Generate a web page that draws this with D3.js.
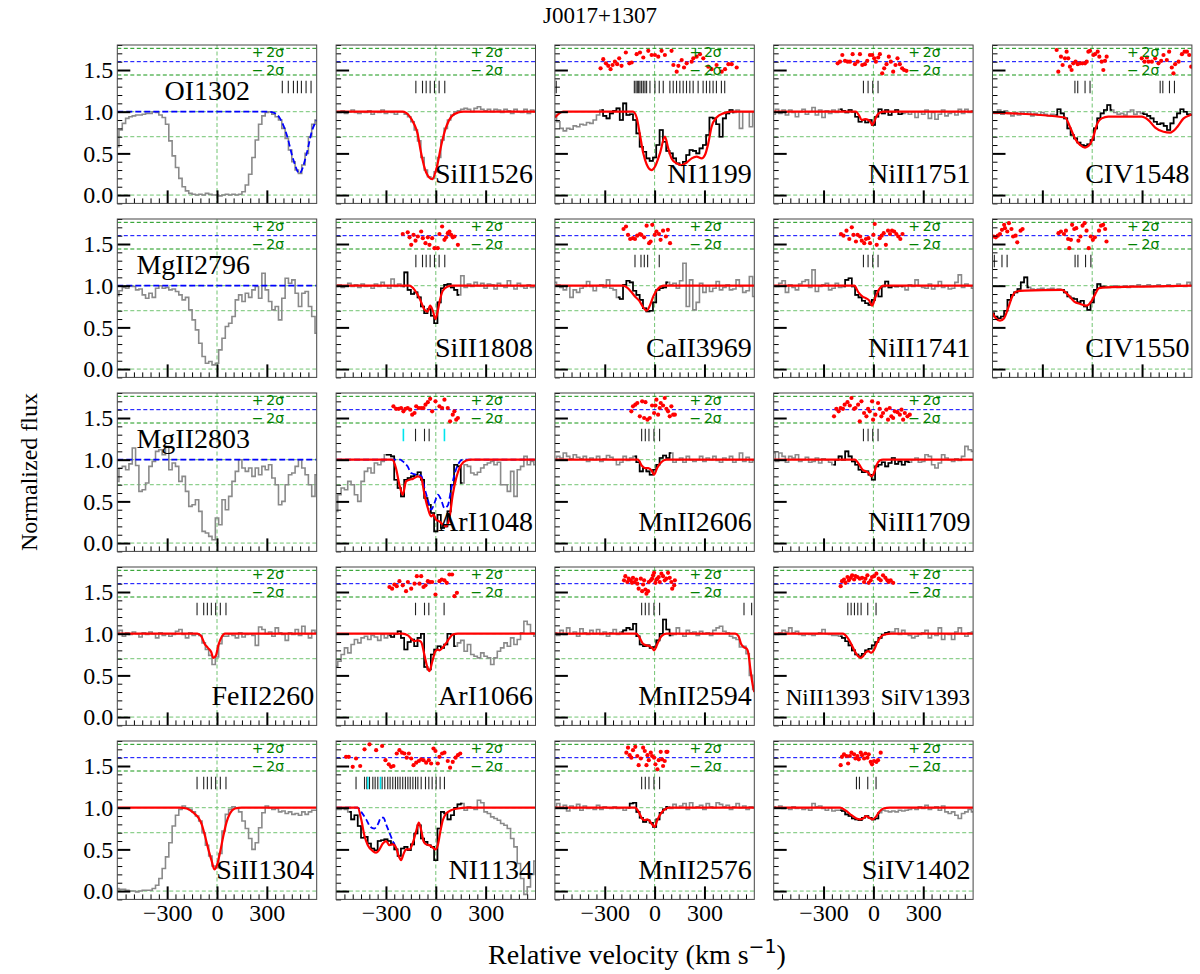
<!DOCTYPE html>
<html><head><meta charset="utf-8">
<script src="https://cdn.jsdelivr.net/npm/d3@7"></script>
<style>body{margin:0;background:#fff}svg{display:block}</style>
</head><body>
<svg id="chart" width="1200" height="974"></svg>
<script>
// ---------------- data ----------------
const velStart = -600, velStep = 20;
const xMajorTicks = [-300, 0, 300];
const yMajorTicks = [0, 0.5, 1.0, 1.5];
const titleText = "J0017+1307";

const fluxOI1302 = [0.58,0.78,0.86,0.92,0.94,0.95,0.96,0.96,0.97,0.98,0.98,1.0,0.99,0.96,0.93,0.85,0.65,0.47,0.33,0.2,0.1,0.05,0.02,0.01,0.0,0.01,0.0,0.02,0.01,0.0,0.0,-0.01,0.0,0.01,0.0,0.01,0.0,0.01,0.04,0.12,0.25,0.45,0.66,0.85,0.95,0.99,1.0,0.97,0.94,0.9,0.8,0.68,0.54,0.4,0.3,0.26,0.36,0.5,0.7,0.85,0.9];
const fluxSiII1526 = [1.0,0.99,1.01,0.98,1.0,1.02,0.99,0.98,1.0,0.99,1.01,0.97,1.0,0.99,1.02,0.98,1.0,0.99,0.97,1.0,1.0,0.97,0.94,0.88,0.78,0.65,0.45,0.3,0.22,0.2,0.28,0.45,0.66,0.8,0.9,0.96,1.0,1.01,1.03,1.04,1.03,1.0,1.04,1.06,1.03,1.01,1.03,1.0,1.03,1.02,0.99,1.03,1.01,0.98,1.03,1.0,0.99,1.03,0.98,1.02,1.0];
const fluxNI1199 = [0.96,0.88,0.8,0.77,0.8,0.79,0.83,0.82,0.85,0.84,0.87,0.86,0.9,0.96,1.02,0.95,0.92,0.98,1.01,1.04,0.9,1.1,0.96,0.97,0.9,0.74,0.58,0.52,0.44,0.41,0.45,0.6,0.78,0.64,0.53,0.5,0.44,0.38,0.36,0.4,0.48,0.54,0.53,0.5,0.56,0.6,0.72,0.93,0.92,0.85,0.7,0.92,0.98,1.02,0.99,1.02,0.8,1.0,1.0,0.82,1.0];
const fluxNiII1751 = [0.97,1.03,0.98,1.02,0.96,1.02,0.99,0.94,1.0,1.03,0.97,1.0,1.05,0.96,1.02,0.93,1.01,0.98,1.02,0.99,1.03,1.01,0.99,1.02,1.0,0.94,0.88,0.9,0.87,0.9,0.84,0.94,1.03,0.98,1.02,0.96,1.0,1.02,0.97,0.98,0.99,0.97,1.0,0.93,1.0,0.97,1.02,0.92,0.99,0.91,0.97,1.02,0.95,0.98,1.0,0.96,1.03,0.98,1.03,0.99,1.01];
const fluxCIV1548 = [1.0,0.98,1.02,0.97,1.01,0.98,0.95,0.99,0.96,1.0,0.97,1.0,0.95,0.98,0.96,0.99,0.97,0.95,0.97,0.96,1.03,0.98,0.92,0.8,0.72,0.68,0.63,0.6,0.59,0.61,0.66,0.8,0.92,0.98,1.02,1.08,1.02,0.99,0.97,0.98,0.96,1.0,1.02,0.97,1.0,0.98,0.97,0.95,0.92,0.88,0.85,0.86,0.83,0.78,0.86,0.93,0.98,1.03,1.0,0.97,0.96];
const fluxMgII2796 = [0.88,0.94,0.98,0.97,1.0,0.99,0.95,0.96,0.89,0.85,0.91,0.86,0.97,1.0,0.97,0.98,0.95,0.96,0.93,0.89,0.83,0.86,0.71,0.59,0.47,0.31,0.15,0.07,0.09,0.05,0.07,0.23,0.37,0.51,0.55,0.63,0.83,0.89,0.81,0.91,0.86,0.95,0.99,0.85,1.15,0.95,0.81,0.71,0.75,0.59,0.85,1.09,1.03,1.07,0.91,0.75,0.91,0.93,0.75,0.63,0.43];
const fluxSiII1808 = [0.99,1.01,0.98,1.0,1.03,0.99,1.01,0.98,1.02,0.99,1.0,0.97,1.02,0.99,1.04,1.0,0.97,1.08,0.99,1.02,0.99,1.16,0.95,0.9,0.92,0.86,0.75,0.67,0.72,0.64,0.55,0.8,0.97,1.01,1.02,0.98,0.95,0.89,1.12,0.98,1.02,0.99,1.04,1.0,1.03,0.97,1.02,1.01,0.96,1.03,1.0,0.98,1.06,1.0,0.96,1.03,0.99,0.97,1.01,0.98,1.0];
const fluxCaII3969 = [1.04,1.01,0.98,0.95,1.0,0.86,0.95,0.92,0.97,0.99,1.05,0.99,0.94,1.0,1.01,0.98,1.07,0.97,0.95,0.86,0.84,1.01,1.06,1.04,0.94,0.89,0.83,0.73,0.69,0.7,0.8,0.95,0.97,0.98,1.04,1.01,1.03,0.97,1.06,1.27,0.75,1.07,0.71,0.8,1.03,0.92,1.0,0.93,0.97,1.05,0.95,0.98,1.01,0.95,0.96,1.07,0.99,0.92,0.94,1.11,0.87];
const fluxNiII1741 = [1.0,0.99,1.03,1.06,0.92,1.01,0.98,0.95,1.02,1.05,1.07,0.98,1.19,0.93,0.99,1.01,1.03,0.95,0.97,1.03,0.98,0.99,1.07,1.09,0.99,0.89,0.86,0.82,0.79,0.77,0.83,0.94,0.87,0.99,1.05,0.98,1.0,0.99,1.0,0.99,0.95,1.01,0.99,1.07,1.0,0.98,0.97,1.02,0.96,0.99,1.05,0.98,1.0,0.96,0.97,1.04,1.13,0.98,1.02,1.0,0.97];
const fluxCIV1550 = [0.67,0.63,0.61,0.63,0.7,0.83,0.89,0.92,0.96,1.04,1.1,0.98,0.96,0.95,0.96,0.97,0.95,0.96,0.97,0.95,0.96,0.95,0.92,0.87,0.85,0.84,0.8,0.82,0.75,0.71,0.8,0.95,1.02,0.99,0.99,0.98,0.99,1.0,0.98,0.99,1.0,0.98,1.0,0.99,1.01,0.99,1.0,1.01,0.99,1.0,1.01,0.99,1.0,1.01,0.99,1.0,1.02,1.0,0.99,1.04,1.0];
const fluxMgII2803 = [0.74,0.9,0.92,0.88,0.95,1.14,0.93,0.62,0.64,0.72,0.92,0.98,1.1,1.12,1.06,1.16,0.88,0.96,0.92,0.74,0.8,0.62,0.44,0.46,0.52,0.38,0.14,0.12,0.08,0.04,0.3,0.22,0.52,0.4,0.56,0.74,0.86,1.0,0.9,0.86,0.9,0.8,0.9,0.82,0.92,0.88,0.94,0.78,0.7,0.46,0.5,0.7,0.82,0.84,0.92,1.0,0.9,0.82,0.7,0.56,0.82];
const fluxArI1048 = [0.38,0.58,0.66,0.64,0.74,0.7,0.58,0.5,0.74,0.86,0.9,0.84,0.96,0.94,0.98,1.06,1.06,1.04,0.76,0.66,0.56,0.76,0.78,0.8,0.82,0.85,0.76,0.54,0.46,0.36,0.14,0.34,0.18,0.2,0.38,0.7,0.94,0.92,0.72,0.94,0.92,0.84,0.82,0.85,0.9,0.94,0.96,0.98,0.94,0.97,0.7,0.7,0.62,0.86,0.56,0.88,0.92,1.04,0.94,0.98,0.94];
const fluxMnII2606 = [1.0,1.04,1.02,1.08,1.04,1.01,1.06,1.03,1.01,1.04,0.98,1.02,1.0,1.04,0.98,1.01,1.05,1.03,1.0,0.94,0.97,1.04,0.99,1.02,1.04,0.97,0.86,0.9,0.86,0.82,0.88,0.94,1.02,1.05,1.02,1.08,0.97,1.0,1.02,0.97,1.04,1.0,0.98,1.0,1.04,0.98,1.02,1.0,1.04,0.99,0.97,1.02,1.0,1.04,0.97,1.0,1.08,0.98,1.03,0.97,0.99];
const fluxNiII1709 = [1.08,0.98,1.08,1.04,0.97,1.04,1.02,1.06,0.98,1.0,1.03,0.97,0.98,1.02,0.96,1.01,1.0,0.97,0.94,1.0,1.04,1.0,1.1,1.04,0.98,0.94,0.88,0.85,0.86,0.82,0.76,0.92,0.94,0.97,0.92,0.96,1.02,0.95,0.98,0.94,0.98,0.97,1.0,1.02,0.97,0.98,1.06,1.04,0.94,0.9,0.96,1.06,1.02,1.0,0.98,1.01,0.99,1.04,1.16,1.12,1.1];
const fluxFeII2260 = [1.0,1.04,0.97,1.01,0.99,1.02,1.0,0.96,1.01,0.99,1.02,1.0,0.95,1.01,0.98,1.0,0.97,0.99,1.03,1.05,0.99,0.95,1.01,0.98,1.0,0.98,0.89,0.81,0.74,0.63,0.72,0.88,0.97,0.97,1.0,0.98,0.95,1.01,0.96,0.99,1.0,0.98,0.86,1.08,1.05,1.0,1.02,0.97,1.07,1.01,0.99,0.92,1.01,0.99,1.05,0.98,1.09,1.0,0.95,1.04,1.01];
const fluxArI1066 = [0.61,0.67,0.75,0.83,0.77,0.87,0.93,0.89,0.95,0.97,0.93,0.98,0.96,0.92,0.99,0.95,0.98,0.96,1.0,1.03,0.95,0.81,0.9,0.93,0.85,0.95,1.0,0.6,0.57,0.75,0.81,0.85,0.83,0.87,1.0,0.99,0.85,0.89,0.92,0.79,0.87,0.75,0.73,0.71,0.77,0.73,0.71,0.63,0.71,0.79,0.83,0.89,0.85,0.95,0.87,0.93,1.01,1.15,1.11,1.01,0.97];
const fluxMnII2594 = [1.01,0.98,1.04,0.99,1.07,1.0,1.02,0.97,1.06,1.01,0.99,1.04,1.0,1.05,0.99,1.02,0.97,1.01,1.05,0.99,1.02,1.04,1.07,1.05,1.12,0.97,0.87,0.85,0.86,0.83,0.84,0.92,1.0,1.17,1.05,0.98,0.99,1.07,1.0,0.97,1.04,1.01,1.02,0.98,1.03,1.0,1.01,0.98,1.04,1.07,1.09,1.03,1.01,0.97,0.95,0.93,0.84,0.85,0.76,0.5,0.33];
const fluxNiII1393 = [1.0,0.99,1.01,1.04,1.02,1.07,1.01,1.03,0.99,0.98,1.0,0.99,0.98,1.0,1.01,1.05,1.0,0.99,0.98,0.98,0.97,0.95,0.91,0.86,0.8,0.75,0.73,0.76,0.8,0.82,0.86,0.9,0.95,0.99,1.01,1.02,1.02,1.06,0.99,1.04,1.0,0.98,0.95,0.97,0.99,1.01,1.04,0.95,1.0,0.98,1.07,0.93,1.0,0.99,0.93,1.02,1.07,1.0,0.97,1.01,1.02];
const fluxSiII1304 = [0.03,0.02,0.02,0.01,0.0,0.0,-0.01,0.0,0.01,0.01,0.01,0.03,0.07,0.15,0.27,0.41,0.58,0.78,0.91,0.98,1.02,1.0,0.98,0.95,0.9,0.84,0.7,0.55,0.42,0.3,0.28,0.45,0.72,0.92,0.98,1.01,1.0,0.95,0.84,0.75,0.63,0.5,0.58,0.76,0.94,1.02,1.0,0.98,0.99,0.95,0.96,0.93,0.95,0.92,0.93,0.91,0.95,0.92,0.95,0.97,0.97];
const fluxNI1134 = [0.98,0.98,0.99,0.98,0.95,0.86,0.91,0.78,0.64,0.65,0.57,0.51,0.49,0.6,0.61,0.62,0.6,0.57,0.5,0.42,0.51,0.53,0.49,0.56,0.69,0.79,0.63,0.59,0.55,0.53,0.37,0.75,0.95,0.93,0.86,0.91,1.0,1.04,1.05,0.97,1.01,1.0,0.98,1.09,1.06,0.95,0.93,0.89,0.87,0.85,0.81,0.79,0.75,0.63,0.53,0.33,0.15,-0.04,0.05,0.2,0.36];
const fluxMnII2576 = [1.01,1.05,1.0,1.03,0.96,1.02,0.99,1.04,0.97,1.02,0.99,1.0,0.98,1.03,0.98,1.01,1.0,0.99,1.01,0.99,1.0,0.97,1.0,1.05,1.06,0.95,0.88,0.83,0.85,0.82,0.77,0.86,0.94,0.98,1.01,0.99,1.04,1.0,1.02,1.05,0.98,1.06,1.0,1.01,1.03,0.98,1.05,1.01,1.0,1.06,1.04,1.01,1.03,0.98,1.01,1.05,1.0,1.02,0.98,1.01,1.0];
const fluxSiIV1402 = [1.01,1.0,1.02,0.99,1.0,0.98,1.01,0.99,1.0,0.98,0.99,0.97,1.05,1.01,1.02,0.99,0.97,1.0,0.96,0.97,0.97,0.96,0.92,0.9,0.87,0.86,0.85,0.88,0.9,0.88,0.86,0.87,0.94,0.97,0.96,0.95,0.96,0.95,0.97,0.96,0.97,0.98,1.0,0.98,1.01,0.99,1.03,0.98,1.0,1.01,0.97,1.02,0.95,0.93,0.95,0.91,0.87,0.93,0.95,0.98,0.95];

// fitted models (velocity, flux)
const modelSiII1526 = [[-600,1],[-200,1],[-160,0.95],[-130,0.85],[-110,0.74],[-90,0.52],[-58,0.27],[-22,0.19],[8,0.35],[33,0.6],[63,0.82],[93,0.94],[134,0.99],[165,1],[600,1]];
const modelNI1199 = [[-600,0.93],[-550,1],[-130,1],[-108,0.93],[-88,0.72],[-68,0.5],[-48,0.37],[-18,0.3],[2,0.34],[32,0.5],[62,0.7],[82,0.56],[102,0.44],[133,0.38],[163,0.36],[193,0.39],[223,0.44],[253,0.46],[283,0.44],[303,0.48],[323,0.62],[343,0.82],[373,0.93],[413,0.98],[464,1],[600,1]];
const modelNiII1751 = [[-600,1],[-105,1],[-85,0.95],[-70,0.9],[-50,0.91],[-30,0.9],[-15,0.87],[-7,0.84],[5,0.88],[20,0.95],[40,0.99],[60,1],[600,1]];
const modelCIV1548 = [[-600,0.99],[-164,0.93],[-134,0.82],[-104,0.68],[-73,0.6],[-43,0.57],[-13,0.61],[7,0.7],[27,0.84],[57,0.92],[97,0.94],[298,0.94],[338,0.9],[379,0.81],[429,0.76],[469,0.75],[509,0.81],[550,0.92],[590,0.96],[600,0.97]];
const modelSiII1808 = [[-600,1],[-160,1],[-128,0.95],[-98,0.85],[-70,0.72],[-50,0.69],[-34,0.76],[-18,0.7],[-2,0.6],[12,0.7],[24,0.82],[42,0.94],[72,0.99],[102,1],[600,1]];
const modelCaII3969 = [[-600,1],[-190,1],[-167,0.98],[-142,0.93],[-118,0.87],[-93,0.82],[-68,0.74],[-48,0.7],[-31,0.75],[-6,0.88],[19,0.96],[56,1],[600,1]];
const modelNiII1741 = [[-600,1],[-115,1],[-90,0.92],[-65,0.87],[-45,0.85],[-25,0.82],[-8,0.76],[10,0.85],[35,0.96],[62,1],[600,1]];
const modelCIV1550 = [[-600,0.67],[-580,0.61],[-555,0.58],[-530,0.61],[-506,0.73],[-481,0.87],[-456,0.93],[-406,0.94],[-183,0.95],[-145,0.89],[-108,0.81],[-71,0.78],[-34,0.76],[-9,0.8],[16,0.89],[41,0.97],[91,0.98],[314,0.99],[600,1]];
const modelArI1048 = [[-600,1],[-262,1],[-240,0.9],[-219,0.7],[-199,0.58],[-179,0.74],[-158,0.76],[-138,0.77],[-108,0.8],[-88,0.78],[-68,0.58],[-48,0.42],[-28,0.32],[-14,0.34],[2,0.28],[22,0.26],[42,0.22],[62,0.2],[82,0.3],[102,0.58],[123,0.78],[153,0.94],[183,0.99],[213,1],[600,1]];
const modelMnII2606 = [[-600,1],[-100,1],[-78,0.93],[-58,0.9],[-38,0.9],[-18,0.87],[-3,0.82],[15,0.9],[40,0.97],[70,1],[600,1]];
const modelNiII1709 = [[-600,1],[-112,1],[-88,0.95],[-65,0.88],[-45,0.86],[-28,0.84],[-12,0.8],[4,0.84],[18,0.93],[38,0.99],[58,1],[600,1]];
const modelFeII2260 = [[-600,1],[-118,1],[-95,0.97],[-75,0.88],[-55,0.83],[-35,0.78],[-22,0.71],[-6,0.74],[8,0.86],[28,0.96],[48,1],[600,1]];
const modelArI1066 = [[-600,1],[-200,1],[-168,0.98],[-148,0.94],[-128,0.91],[-108,0.92],[-88,0.9],[-68,0.74],[-50,0.59],[-38,0.55],[-22,0.66],[-2,0.79],[12,0.81],[22,0.8],[40,0.83],[60,0.88],[80,0.94],[102,0.99],[133,1],[600,1]];
const modelMnII2594 = [[-600,1],[-110,1],[-90,0.95],[-70,0.88],[-50,0.86],[-30,0.85],[-15,0.83],[-3,0.8],[17,0.88],[41,0.97],[71,1],[485,1],[505,0.97],[520,0.88],[535,0.84],[555,0.82],[565,0.76],[575,0.6],[585,0.45],[600,0.3]];
const modelNiII1393 = [[-600,1],[-185,1],[-152,0.94],[-132,0.87],[-112,0.79],[-92,0.73],[-78,0.71],[-62,0.73],[-44,0.78],[-30,0.79],[-14,0.77],[2,0.8],[22,0.89],[44,0.96],[68,0.99],[108,1],[600,1]];
const modelSiII1304 = [[-600,1],[-225,1],[-183,0.99],[-142,0.94],[-112,0.88],[-92,0.8],[-72,0.66],[-52,0.5],[-32,0.36],[-16,0.26],[-2,0.3],[18,0.46],[38,0.66],[58,0.83],[78,0.93],[108,0.99],[148,1],[600,1]];
const modelNI1134 = [[-600,1],[-470,1],[-449,0.86],[-429,0.66],[-409,0.55],[-379,0.48],[-359,0.46],[-339,0.5],[-319,0.57],[-299,0.6],[-279,0.55],[-259,0.56],[-239,0.52],[-223,0.42],[-209,0.37],[-195,0.44],[-179,0.5],[-158,0.5],[-138,0.58],[-118,0.72],[-102,0.82],[-88,0.73],[-74,0.6],[-58,0.56],[-38,0.55],[-18,0.52],[-2,0.5],[12,0.55],[26,0.7],[42,0.85],[62,0.93],[92,0.97],[133,0.99],[183,1],[600,1]];
const modelMnII2576 = [[-600,1],[-118,1],[-96,0.95],[-76,0.87],[-60,0.85],[-44,0.86],[-30,0.84],[-15,0.8],[0,0.77],[16,0.85],[37,0.93],[61,0.98],[91,1],[600,1]];
const modelSiIV1402 = [[-600,1],[-200,1],[-163,0.96],[-132,0.91],[-102,0.87],[-82,0.86],[-62,0.87],[-45,0.9],[-25,0.88],[-5,0.86],[15,0.89],[35,0.95],[60,0.99],[100,1],[600,1]];

// blue dashed models
const blueOI1302 = [[-600,1],[310,1],[340,0.99],[379,0.92],[420,0.72],[460,0.42],[496,0.26],[540,0.5],[570,0.76],[600,0.9]];
const blueMgII2796 = [[-600,1],[600,1]];
const blueMgII2803 = [[-600,1],[600,1]];
const blueArI1048 = [[-600,1],[-215,1],[-199,0.98],[-170,0.92],[-148,0.84],[-118,0.82],[-88,0.81],[-68,0.66],[-48,0.52],[-28,0.4],[-8,0.48],[12,0.58],[32,0.52],[52,0.42],[72,0.45],[92,0.64],[112,0.82],[133,0.94],[163,1],[600,1]];
const blueNI1134 = [[-600,1],[-470,1],[-449,0.95],[-419,0.86],[-394,0.77],[-370,0.75],[-349,0.8],[-329,0.88],[-315,0.88],[-299,0.8],[-279,0.7],[-259,0.6],[-239,0.52]];

// residuals (velocity, offset residual)
const residNI1199 = [[-325,1.52],[-309,1.63],[-293,1.58],[-279,1.55],[-265,1.51],[-253,1.56],[-239,1.6],[-225,1.57],[-213,1.64],[-199,1.55],[-173,1.71],[-152,1.58],[-138,1.59],[-108,1.69],[-88,1.71],[-68,1.65],[-38,1.73],[-18,1.68],[2,1.68],[22,1.66],[42,1.73],[62,1.68],[102,1.73],[113,1.56],[133,1.48],[143,1.55],[163,1.62],[177,1.53],[193,1.58],[223,1.6],[233,1.64],[253,1.66],[273,1.69],[293,1.64],[323,1.54],[343,1.51],[373,1.56],[404,1.48],[424,1.51],[444,1.57],[464,1.57],[494,1.53]];
const residNiII1751 = [[-215,1.58],[-201,1.6],[-187,1.68],[-171,1.61],[-155,1.6],[-141,1.6],[-125,1.69],[-111,1.57],[-95,1.6],[-81,1.69],[-67,1.56],[-51,1.57],[-37,1.61],[-21,1.68],[-7,1.68],[5,1.64],[15,1.6],[29,1.65],[39,1.69],[53,1.46],[65,1.52],[79,1.57],[93,1.66],[105,1.6],[119,1.48],[133,1.56],[145,1.64],[159,1.57],[173,1.52],[185,1.5],[199,1.49]];
const residCIV1548 = [[-214,1.74],[-204,1.48],[-188,1.66],[-178,1.56],[-164,1.64],[-154,1.72],[-144,1.64],[-134,1.54],[-124,1.5],[-114,1.58],[-100,1.6],[-87,1.57],[-73,1.58],[-59,1.58],[-43,1.58],[-33,1.6],[-23,1.72],[-13,1.73],[7,1.68],[17,1.69],[33,1.72],[43,1.66],[57,1.6],[67,1.5],[77,1.61],[87,1.66],[298,1.64],[315,1.6],[329,1.65],[339,1.6],[359,1.6],[379,1.64],[399,1.58],[415,1.61],[429,1.68],[449,1.62],[463,1.72],[479,1.53],[489,1.46],[499,1.57],[520,1.6],[540,1.69],[556,1.72],[570,1.72],[584,1.68],[596,1.54]];
const residSiII1808 = [[-199,1.62],[-169,1.64],[-158,1.58],[-148,1.49],[-134,1.61],[-122,1.54],[-108,1.59],[-88,1.65],[-78,1.57],[-62,1.51],[-48,1.58],[-38,1.49],[-22,1.57],[-8,1.45],[12,1.45],[22,1.62],[38,1.71],[52,1.55],[62,1.58],[72,1.63],[82,1.65],[92,1.61],[102,1.58],[112,1.59],[133,1.49]];
const residCaII3969 = [[-187,1.68],[-172,1.71],[-160,1.61],[-147,1.56],[-130,1.57],[-118,1.56],[-105,1.6],[-88,1.62],[-80,1.61],[-63,1.58],[-48,1.72],[-33,1.51],[-24,1.53],[-14,1.73],[1,1.61],[11,1.65],[26,1.62],[36,1.55],[51,1.66],[68,1.59],[80,1.67],[93,1.51]];
const residNiII1741 = [[-195,1.62],[-180,1.6],[-162,1.66],[-145,1.56],[-130,1.7],[-120,1.61],[-105,1.53],[-95,1.61],[-80,1.59],[-70,1.54],[-55,1.51],[-45,1.56],[-30,1.57],[-20,1.51],[0,1.61],[8,1.74],[20,1.49],[38,1.57],[50,1.6],[62,1.63],[75,1.49],[88,1.66],[100,1.62],[112,1.66],[125,1.65],[138,1.62],[150,1.59],[162,1.56],[175,1.62]];
const residCIV1550 = [[-593,1.59],[-580,1.58],[-568,1.6],[-555,1.62],[-543,1.67],[-530,1.73],[-525,1.69],[-511,1.65],[-501,1.75],[-486,1.68],[-476,1.59],[-461,1.6],[-451,1.52],[-431,1.66],[-419,1.68],[-203,1.63],[-188,1.65],[-170,1.62],[-158,1.66],[-145,1.56],[-138,1.45],[-128,1.55],[-121,1.73],[-108,1.68],[-96,1.69],[-83,1.54],[-71,1.59],[-58,1.72],[-46,1.75],[-34,1.66],[-21,1.45],[-9,1.59],[4,1.55],[16,1.58],[41,1.66],[53,1.72],[66,1.73],[78,1.68],[86,1.53]];
const residArI1048 = [[-255,1.64],[-239,1.61],[-223,1.61],[-209,1.62],[-195,1.58],[-183,1.61],[-169,1.62],[-154,1.6],[-142,1.54],[-128,1.56],[-118,1.64],[-102,1.62],[-88,1.62],[-74,1.62],[-62,1.66],[-48,1.69],[-34,1.73],[-22,1.58],[-2,1.7],[22,1.64],[38,1.62],[52,1.72],[72,1.62],[86,1.46],[102,1.54],[112,1.58],[123,1.48],[133,1.5]];
const residMnII2606 = [[-140,1.58],[-130,1.64],[-116,1.66],[-104,1.68],[-89,1.52],[-75,1.7],[-63,1.5],[-55,1.69],[-43,1.48],[-29,1.5],[-15,1.65],[-3,1.56],[5,1.65],[11,1.72],[21,1.54],[31,1.62],[37,1.68],[51,1.65],[61,1.74],[71,1.61],[81,1.58],[91,1.52],[101,1.64],[112,1.54],[122,1.54]];
const residNiII1709 = [[-237,1.52],[-223,1.61],[-209,1.58],[-197,1.62],[-183,1.61],[-173,1.66],[-156,1.69],[-142,1.65],[-132,1.74],[-116,1.61],[-108,1.62],[-92,1.66],[-82,1.46],[-72,1.7],[-56,1.56],[-42,1.52],[-32,1.61],[-22,1.58],[-8,1.7],[-2,1.48],[12,1.54],[28,1.68],[38,1.61],[48,1.52],[58,1.56],[78,1.6],[88,1.48],[98,1.62],[108,1.52],[119,1.5],[129,1.58],[145,1.57],[159,1.54],[169,1.6],[179,1.48],[189,1.56],[205,1.52],[219,1.54]];
const residArI1066 = [[-279,1.56],[-263,1.54],[-249,1.59],[-235,1.57],[-219,1.63],[-199,1.58],[-179,1.51],[-168,1.62],[-148,1.54],[-128,1.6],[-114,1.69],[-98,1.6],[-88,1.69],[-74,1.56],[-62,1.58],[-48,1.63],[-34,1.62],[-22,1.62],[-2,1.47],[22,1.63],[36,1.65],[52,1.64],[66,1.61],[82,1.71],[98,1.71],[112,1.45],[127,1.49]];
const residMnII2594 = [[-184,1.64],[-176,1.69],[-164,1.62],[-156,1.66],[-144,1.64],[-136,1.61],[-130,1.67],[-120,1.62],[-110,1.65],[-104,1.6],[-96,1.54],[-83,1.66],[-75,1.51],[-69,1.59],[-63,1.64],[-55,1.53],[-49,1.48],[-39,1.51],[-35,1.62],[-23,1.64],[-15,1.66],[-9,1.7],[-3,1.73],[5,1.61],[11,1.65],[17,1.66],[25,1.68],[31,1.62],[41,1.72],[51,1.69],[61,1.64],[71,1.66],[81,1.73],[91,1.67],[101,1.62],[106,1.54],[118,1.58],[122,1.64]];
const residNiII1393 = [[-197,1.57],[-189,1.63],[-177,1.65],[-168,1.61],[-156,1.68],[-148,1.64],[-136,1.67],[-128,1.7],[-116,1.65],[-108,1.69],[-96,1.68],[-82,1.66],[-68,1.67],[-56,1.62],[-48,1.66],[-36,1.7],[-28,1.61],[-16,1.64],[-8,1.68],[4,1.69],[18,1.72],[32,1.66],[44,1.64],[58,1.7],[72,1.67],[84,1.64],[92,1.62],[104,1.64],[119,1.61]];
const residNI1134 = [[-540,1.61],[-524,1.61],[-500,1.49],[-480,1.59],[-455,1.5],[-429,1.7],[-399,1.76],[-359,1.69],[-323,1.74],[-303,1.57],[-283,1.52],[-269,1.49],[-255,1.5],[-235,1.65],[-219,1.69],[-203,1.66],[-189,1.65],[-175,1.6],[-162,1.65],[-148,1.59],[-134,1.51],[-118,1.54],[-102,1.56],[-88,1.58],[-74,1.57],[-58,1.54],[-42,1.57],[-28,1.53],[-14,1.71],[-2,1.68],[12,1.53],[22,1.61],[38,1.65],[52,1.66],[72,1.56],[86,1.48],[102,1.55],[119,1.6],[133,1.63],[147,1.65]];
const residMnII2576 = [[-170,1.66],[-160,1.72],[-150,1.63],[-140,1.6],[-130,1.69],[-116,1.73],[-104,1.62],[-96,1.51],[-83,1.59],[-69,1.72],[-59,1.68],[-49,1.51],[-43,1.63],[-35,1.57],[-23,1.66],[-15,1.62],[-3,1.6],[5,1.52],[17,1.46],[25,1.57],[37,1.67],[45,1.58],[51,1.5],[61,1.56],[71,1.67],[77,1.67]];
const residSiIV1402 = [[-197,1.51],[-189,1.61],[-177,1.64],[-162,1.62],[-152,1.53],[-142,1.62],[-132,1.66],[-116,1.64],[-108,1.59],[-96,1.62],[-88,1.58],[-76,1.66],[-68,1.63],[-56,1.59],[-48,1.65],[-36,1.6],[-28,1.64],[-16,1.55],[-8,1.52],[4,1.56],[18,1.55],[28,1.57],[44,1.66]];

// velocity components (tick marks)
const compOI1302 = [393,429,460,484,508,536,566];
const compLowIon = [-120,-80,-58,-34,-8,20,54];
const compNI1199 = [-592,-122,-112,-104,-96,-88,-78,-68,-58,-48,-28,2,28,52,92,112,132,152,172,192,212,232,262,292,312,332,352,372,402,422];
const compNiII = [-60,-32,-4,28];
const compCIV1548 = [-104,-87,-43,-13,409,425,465,495];
const compCIV1550 = [-589,-543,-512,-103,-86,-40,-8];
const compCaII3969 = [-118,-82,-62,-42,28];
const compArI1048 = [-122,-68,-40];
const compArI1048Cyan = [-195,52];
const compArI1066 = [-122,-68,-42,50];
const compMnII = [-78,-56,-34,-4,30];
const compMnII2594 = [-78,-56,-34,-4,30,538,584];
const compNiII1393 = [-154,-134,-114,-94,-74,-34,16];
const compSiIV1402 = [-102,-84,-34,16];
const compNI1134 = [-480,-429,-415,-399,-379,-365,-349,-323,-307,-289,-275,-259,-243,-229,-215,-199,-183,-168,-154,-138,-122,-108,-88,-62,-42,-22,2,26,52];
const compNI1134Cyan = [-409,-333];

// ---------------- panel table ----------------
const panels = [
 {name:"OI1302", col:0,row:0, flux:fluxOI1302, black:[], model:null, blue:blueOI1302, resid:null, comp:compOI1302, cyan:[], lab:"upper"},
 {name:"SiII1526", col:1,row:0, flux:fluxSiII1526, black:[], model:modelSiII1526, blue:null, resid:null, comp:compLowIon, cyan:[]},
 {name:"NI1199", col:2,row:0, flux:fluxNI1199, black:[[-320,480]], model:modelNI1199, blue:null, resid:residNI1199, comp:compNI1199, cyan:[]},
 {name:"NiII1751", col:3,row:0, flux:fluxNiII1751, black:[[-210,190]], model:modelNiII1751, blue:null, resid:residNiII1751, comp:compNiII, cyan:[]},
 {name:"CIV1548", col:4,row:0, flux:fluxCIV1548, black:[[-220,120],[300,600]], model:modelCIV1548, blue:null, resid:residCIV1548, comp:compCIV1548, cyan:[]},
 {name:"MgII2796", col:0,row:1, flux:fluxMgII2796, black:[], model:null, blue:blueMgII2796, resid:null, comp:[], cyan:[], lab:"upper"},
 {name:"SiII1808", col:1,row:1, flux:fluxSiII1808, black:[[-200,140]], model:modelSiII1808, blue:null, resid:residSiII1808, comp:compLowIon, cyan:[]},
 {name:"CaII3969", col:2,row:1, flux:fluxCaII3969, black:[[-230,95]], model:modelCaII3969, blue:null, resid:residCaII3969, comp:compCaII3969, cyan:[]},
 {name:"NiII1741", col:3,row:1, flux:fluxNiII1741, black:[[-190,180]], model:modelNiII1741, blue:null, resid:residNiII1741, comp:compNiII, cyan:[]},
 {name:"CIV1550", col:4,row:1, flux:fluxCIV1550, black:[[-600,-370],[-180,80]], model:modelCIV1550, blue:null, resid:residCIV1550, comp:compCIV1550, cyan:[]},
 {name:"MgII2803", col:0,row:2, flux:fluxMgII2803, black:[], model:null, blue:blueMgII2803, resid:null, comp:[], cyan:[], lab:"upper"},
 {name:"ArI1048", col:1,row:2, flux:fluxArI1048, black:[[-300,160]], model:modelArI1048, blue:blueArI1048, resid:residArI1048, comp:compArI1048, cyan:compArI1048Cyan},
 {name:"MnII2606", col:2,row:2, flux:fluxMnII2606, black:[[-130,115]], model:modelMnII2606, blue:null, resid:residMnII2606, comp:compMnII, cyan:[]},
 {name:"NiII1709", col:3,row:2, flux:fluxNiII1709, black:[[-240,230]], model:modelNiII1709, blue:null, resid:residNiII1709, comp:compNiII, cyan:[]},
 {name:"FeII2260", col:0,row:3, flux:fluxFeII2260, black:[], model:modelFeII2260, blue:null, resid:null, comp:compLowIon, cyan:[]},
 {name:"ArI1066", col:1,row:3, flux:fluxArI1066, black:[[-280,125]], model:modelArI1066, blue:null, resid:residArI1066, comp:compArI1066, cyan:[]},
 {name:"MnII2594", col:2,row:3, flux:fluxMnII2594, black:[[-200,110]], model:modelMnII2594, blue:null, resid:residMnII2594, comp:compMnII2594, cyan:[]},
 {name:"NiII1393|SiIV1393", col:3,row:3, flux:fluxNiII1393, black:[[-210,115]], model:modelNiII1393, blue:null, resid:residNiII1393, comp:compNiII1393, cyan:[], lab:"double"},
 {name:"SiII1304", col:0,row:4, flux:fluxSiII1304, black:[], model:modelSiII1304, blue:null, resid:null, comp:compLowIon, cyan:[]},
 {name:"NI1134", col:1,row:4, flux:fluxNI1134, black:[[-520,170]], model:modelNI1134, blue:blueNI1134, resid:residNI1134, comp:compNI1134, cyan:compNI1134Cyan},
 {name:"MnII2576", col:2,row:4, flux:fluxMnII2576, black:[[-170,85]], model:modelMnII2576, blue:null, resid:residMnII2576, comp:compMnII, cyan:[]},
 {name:"SiIV1402", col:3,row:4, flux:fluxSiIV1402, black:[[-215,50]], model:modelSiIV1402, blue:null, resid:residSiIV1402, comp:compSiIV1402, cyan:[]}
];
const bottomRowOfCol = [4,4,4,4,1];

// ---------------- drawing ----------------
const SERIF = "'Liberation Serif','Times New Roman',Times,serif";
const SANS = "'DejaVu Sans',sans-serif";
const svg = d3.select("#chart");
const L0 = 117.3, DX = 218.8, PW = 199.4, T0 = 45, DY = 174, PH = 158.4;
const x = d3.scaleLinear().domain([-600, 600]).range([0, PW]);
const y = d3.scaleLinear().domain([-0.1, 1.8]).range([PH, 0]);
const stepLine = d3.line().x(d => x(d[0])).y(d => y(d[1])).curve(d3.curveStep);
const smoothLine = d3.line().x(d => x(d[0])).y(d => y(d[1])).curve(d3.curveMonotoneX);
const fmtX = d => d < 0 ? "\u2212" + Math.abs(d) : String(d);

const xMinor = d3.range(-550, 551, 50).filter(v => v % 300 !== 0);
const yMinor = d3.range(-1, 19).map(k => k / 10).filter(v => Math.abs(v * 2 - Math.round(v * 2)) > 1e-6);

panels.forEach((p, idx) => {
  const g = svg.append("g").attr("transform", `translate(${L0 + p.col * DX},${T0 + p.row * DY})`);
  const cid = "clip" + idx;
  g.append("clipPath").attr("id", cid).append("rect").attr("width", PW).attr("height", PH);
  const inner = g.append("g").attr("clip-path", `url(#${cid})`);

  // reference lines
  [0, 0.7, 1.0].forEach(v => inner.append("line").attr("x1", 0).attr("x2", PW).attr("y1", y(v)).attr("y2", y(v))
    .attr("stroke", "#72c472").attr("stroke-width", 1).attr("stroke-dasharray", "4,2.5"));
  inner.append("line").attr("x1", x(0)).attr("x2", x(0)).attr("y1", 0).attr("y2", PH)
    .attr("stroke", "#72c472").attr("stroke-width", 1).attr("stroke-dasharray", "4,2.5");
  [1.44, 1.76].forEach(v => inner.append("line").attr("x1", 0).attr("x2", PW).attr("y1", y(v)).attr("y2", y(v))
    .attr("stroke", "#149614").attr("stroke-width", 1).attr("stroke-dasharray", "4,2.5"));
  inner.append("line").attr("x1", 0).attr("x2", PW).attr("y1", y(1.6)).attr("y2", y(1.6))
    .attr("stroke", "#0000ff").attr("stroke-width", 1).attr("stroke-dasharray", "4,2.5");

  // spectrum
  const pts = p.flux.map((f, i) => [velStart + velStep * i, f]);
  inner.append("path").attr("d", stepLine(pts)).attr("fill", "none").attr("stroke", "#8a8a8a").attr("stroke-width", 1.6);
  p.black.forEach(([a, b]) => {
    const sub = pts.filter(d => d[0] >= a && d[0] <= b);
    inner.append("path").attr("d", stepLine(sub)).attr("fill", "none").attr("stroke", "#000").attr("stroke-width", 1.6);
  });
  if (p.blue) inner.append("path").attr("d", smoothLine(p.blue)).attr("fill", "none").attr("stroke", "#0000ff")
    .attr("stroke-width", 1.8).attr("stroke-dasharray", "6,3");
  if (p.model) inner.append("path").attr("d", smoothLine(p.model)).attr("fill", "none").attr("stroke", "#ff0000").attr("stroke-width", 2.2);
  if (p.resid) inner.selectAll("circle.r").data(p.resid).enter().append("circle")
    .attr("cx", d => x(d[0])).attr("cy", d => y(d[1])).attr("r", 2.1).attr("fill", "#ff0000");

  // component marks
  p.comp.forEach(v => inner.append("line").attr("x1", x(v)).attr("x2", x(v)).attr("y1", y(1.37)).attr("y2", y(1.22))
    .attr("stroke", "#222").attr("stroke-width", 1.1));
  p.cyan.forEach(v => inner.append("line").attr("x1", x(v)).attr("x2", x(v)).attr("y1", y(1.37)).attr("y2", y(1.22))
    .attr("stroke", "#00e5ee").attr("stroke-width", 1.6));

  // sigma labels
  g.append("text").attr("x", 134.5).attr("y", y(1.66)).text("+\u20092\u03c3")
    .attr("font-family", SANS).attr("font-size", 14).attr("fill", "#008000");
  g.append("text").attr("x", 134.5).attr("y", y(1.44)).text("\u2212\u20092\u03c3")
    .attr("font-family", SANS).attr("font-size", 14).attr("fill", "#008000");

  // ion label
  if (p.lab === "upper") {
    g.append("text").attr("x", 132.7).attr("y", y(1.14)).attr("text-anchor", "end").text(p.name)
      .attr("font-family", SERIF).attr("font-size", 28).attr("fill", "#000");
  } else if (p.lab === "double") {
    const [a, b] = p.name.split("|");
    g.append("text").attr("x", 12).attr("y", y(0.148)).text(a).attr("font-family", SERIF).attr("font-size", 23);
    g.append("text").attr("x", PW - 3).attr("y", y(0.148)).attr("text-anchor", "end").text(b).attr("font-family", SERIF).attr("font-size", 23);
  } else {
    g.append("text").attr("x", PW - 2.5).attr("y", y(0.145)).attr("text-anchor", "end").text(p.name)
      .attr("font-family", SERIF).attr("font-size", 28).attr("fill", "#000");
  }

  // ticks (inward)
  const axB1 = g.append("g").attr("transform", `translate(0,${PH})`)
    .call(d3.axisBottom(x).tickValues(xMinor).tickSize(-5).tickFormat(""));
  const axB2 = g.append("g").attr("transform", `translate(0,${PH})`)
    .call(d3.axisBottom(x).tickValues(xMajorTicks).tickSize(-13).tickFormat(""));
  const axL1 = g.append("g").call(d3.axisLeft(y).tickValues(yMinor).tickSize(-5).tickFormat(""));
  const axL2 = g.append("g").call(d3.axisLeft(y).tickValues(yMajorTicks).tickSize(-13).tickFormat(""));
  [axB1, axB2, axL1, axL2].forEach(a => a.select(".domain").remove());
  [axB1, axL1].forEach(a => a.selectAll("line").attr("stroke", "#000").attr("stroke-width", 1));
  [axB2, axL2].forEach(a => a.selectAll("line").attr("stroke", "#000").attr("stroke-width", 2));

  // frame
  g.append("rect").attr("width", PW).attr("height", PH).attr("fill", "none").attr("stroke", "#444").attr("stroke-width", 1);

  // tick labels
  if (p.row === bottomRowOfCol[p.col] && p.col < 4) {
    const ax = g.append("g").attr("transform", `translate(0,${PH})`)
      .call(d3.axisBottom(x).tickValues(xMajorTicks).tickSize(0).tickPadding(4.5).tickFormat(fmtX));
    ax.select(".domain").remove();
    ax.selectAll("text").attr("font-family", SERIF).attr("font-size", 24).attr("fill", "#000");
  }
  if (p.col === 0) {
    const ay = g.append("g")
      .call(d3.axisLeft(y).tickValues(yMajorTicks).tickSize(0).tickPadding(4).tickFormat(d3.format(".1f")));
    ay.select(".domain").remove();
    ay.selectAll("text").attr("font-family", SERIF).attr("font-size", 24).attr("fill", "#000");
  }
});

// titles
svg.append("text").attr("x", 600).attr("y", 23).attr("text-anchor", "middle").text(titleText)
  .attr("font-family", SERIF).attr("font-size", 23).attr("fill", "#000");
const xl = svg.append("text").attr("x", 637).attr("y", 964).attr("text-anchor", "middle")
  .attr("font-family", SERIF).attr("font-size", 28).attr("fill", "#000");
xl.append("tspan").text("Relative velocity (km s");
xl.append("tspan").attr("dy", -11).attr("font-size", 19).attr("font-family", SANS).text("\u22121");
xl.append("tspan").attr("dy", 11).text(")");
svg.append("text").attr("transform", "translate(37,472) rotate(-90)").attr("text-anchor", "middle")
  .text("Normalized flux").attr("font-family", SERIF).attr("font-size", 24).attr("fill", "#000");
</script>
</body></html>
